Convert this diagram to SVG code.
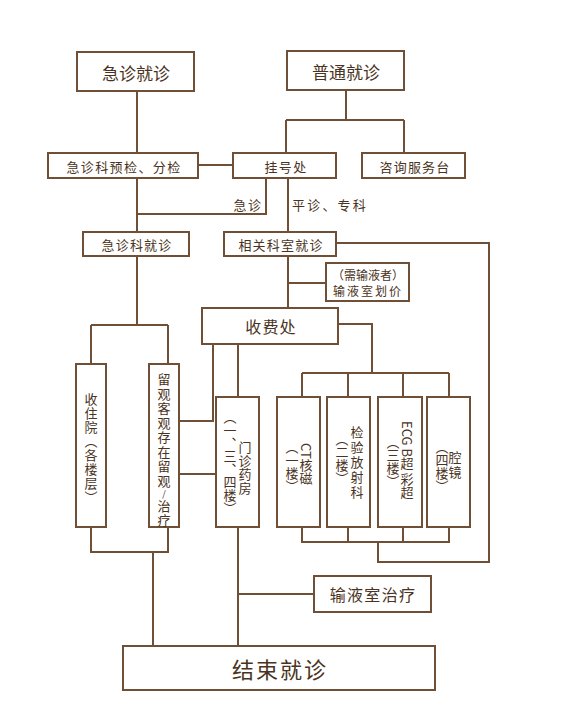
<svg xmlns="http://www.w3.org/2000/svg" width="562" height="721" viewBox="0 0 562 721">
<style>
.b{fill:#fff;stroke:#6f5037;stroke-width:2}
.c{fill:none;stroke:#6f5037;stroke-width:2}
text{font-family:"Noto Sans CJK SC","Noto Sans",sans-serif;fill:#4a3322}
.h{text-anchor:middle;dominant-baseline:central}
.v{writing-mode:vertical-rl;font-size:13px}
</style>
<rect width="562" height="721" fill="#fff"/>
<g id="connectors">
<path class="c" d="M137 91V153M346 90V120M286 120H404M286 120V153M404 120V153M198 165H233M137 178V232M266 178V214H137M288 178V232"/>
<path class="c" d="M137 256V325M91 325H168M91 325V364M168 325V364M336 243H489V562H378V542M288 256V308M288 283H326"/>
<path class="c" d="M338 324H372V373M302 373H449M302 373V397M348 373V397M403 373V397M449 373V397M213 344V421H179M238 344V397M179 474H216"/>
<path class="c" d="M302 527V542H449V527M348 527V542M403 527V542M91 527V552H168V527M153 552V646M238 527V646M238 594H314"/>
</g>
<g id="n1"><rect class="b" x="77" y="52" width="117" height="39"/><text class="h" x="136" y="72" font-size="17">急诊就诊</text></g>
<g id="n2"><rect class="b" x="287" y="51" width="117" height="39"/><text class="h" x="346" y="71" font-size="17">普通就诊</text></g>
<g id="n3"><rect class="b" x="48" y="153" width="150" height="25"/><text class="h" x="124" y="166" font-size="13" letter-spacing="1.4">急诊科预检、分检</text></g>
<g id="n4"><rect class="b" x="233" y="153" width="103" height="25"/><text class="h" x="286" y="166" font-size="13" letter-spacing="1.3">挂号处</text></g>
<g id="n5"><rect class="b" x="362" y="153" width="103" height="25"/><text class="h" x="415" y="166" font-size="13" letter-spacing="1.2">咨询服务台</text></g>
<g id="l1"><text class="h" x="248" y="204" font-size="13" letter-spacing="1.4">急诊</text></g>
<g id="l2"><text x="292" y="204" font-size="13" letter-spacing="2.2" dominant-baseline="central">平诊、专科</text></g>
<g id="n6"><rect class="b" x="83" y="232" width="106" height="24"/><text class="h" x="137" y="244" font-size="13" letter-spacing="1.2">急诊科就诊</text></g>
<g id="n7"><rect class="b" x="224" y="232" width="112" height="24"/><text class="h" x="281" y="244" font-size="13" letter-spacing="1.2">相关科室就诊</text></g>
<g id="n8"><rect class="b" x="326" y="263" width="83" height="38"/><text class="h" x="368" y="274.5" font-size="12">（需输液者）</text><text class="h" x="368" y="290.5" font-size="12" letter-spacing="2">输液室划价</text></g>
<g id="n9"><rect class="b" x="202" y="308" width="136" height="36"/><text class="h" x="271" y="326" font-size="16" letter-spacing="1.2">收费处</text></g>
<g id="n10"><rect class="b" x="76" y="364" width="30" height="163"/><text class="v" x="91" y="393" letter-spacing="1">收住院（各楼层）</text></g>
<g id="n11"><rect class="b" x="149" y="364" width="30" height="163"/><text class="v" x="164" y="373" letter-spacing="1.5" style="text-orientation:upright">留观客观存在留观<tspan font-size="9">/</tspan>治疗</text></g>
<g id="n12"><rect class="b" x="216" y="397" width="43" height="130"/><text class="v" x="245" y="441" letter-spacing="0.5">门诊药房</text><text class="v" x="230" y="411">（一、三、四楼）</text></g>
<g id="n13"><rect class="b" x="277" y="397" width="43" height="130"/><text class="v" x="306" y="443">CT核磁</text><text class="v" x="292" y="441">（一楼）</text></g>
<g id="n14"><rect class="b" x="327" y="397" width="43" height="130"/><text class="v" x="357" y="426" letter-spacing="2">检验放射科</text><text class="v" x="342" y="433">（二楼）</text></g>
<g id="n15"><rect class="b" x="378" y="397" width="44" height="130"/><text class="v" x="407" y="421">ECG B超 彩超</text><text class="v" x="393" y="436">（三楼）</text></g>
<g id="n16"><rect class="b" x="427" y="397" width="43" height="130"/><text class="v" x="455" y="451" letter-spacing="2">腔镜</text><text class="v" x="442" y="441">（四楼）</text></g>
<g id="n17"><rect class="b" x="314" y="576" width="117" height="36"/><text class="h" x="373" y="594" font-size="16" letter-spacing="1.3">输液室治疗</text></g>
<g id="n18"><rect class="b" x="123" y="646" width="312" height="44"/><text class="h" x="280" y="668" font-size="22" letter-spacing="2">结束就诊</text></g>
</svg>
